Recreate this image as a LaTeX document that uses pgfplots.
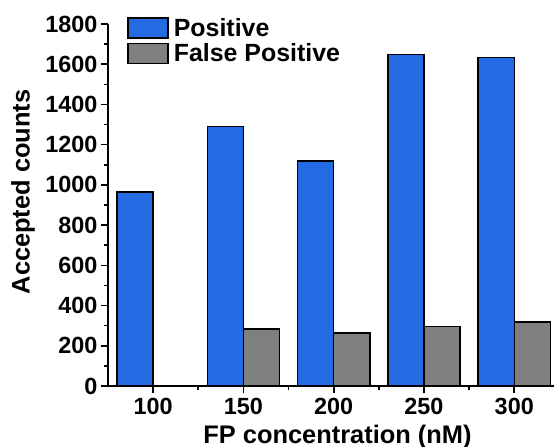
\documentclass[border=0pt]{standalone}
\usepackage{fontspec}
\setmainfont{Liberation Sans}
\usepackage{pgfplots}
\pgfplotsset{compat=1.18}
\definecolor{posblue}{RGB}{36,106,226}
\definecolor{fpgray}{RGB}{128,128,128}
\begin{document}
\begin{tikzpicture}
\begin{axis}[
  scale only axis,
  width=446bp, height=362bp,
  xmin=75, xmax=322, ymin=0, ymax=1800,
  axis x line*=bottom, axis y line*=left,
  axis line style={line width=2bp, -},
  xtick={100,150,200,250,300},
  minor xtick={125,175,225,275},
  ytick={0,200,...,1800},
  minor ytick={100,300,...,1700},
  tick align=outside,
  major tick length=7bp, minor tick length=4bp,
  every tick/.style={line width=1.6bp, black},
  /pgf/number format/assume math mode=true,
  /pgf/number format/1000 sep={},
  tick label style={font=\fontsize{23.5}{26}\selectfont\bfseries},
  xticklabel style={yshift=-2bp},
  label style={font=\fontsize{25.5}{28}\selectfont\bfseries},
  xlabel={FP concentration (nM)},
  ylabel={Accepted counts},
  xlabel style={at={(rel axis cs:0.5146,0)}, anchor=base, yshift=-57bp},
  ylabel style={at={(rel axis cs:0,0.536)}, anchor=center, yshift=85bp},
  ybar, bar width=20,
  legend style={draw=none, fill=none, at={(rel axis cs:0.043,1.022)}, anchor=north west,
    font=\fontsize{25}{28}\selectfont\bfseries, row sep=2bp, column sep=3bp, inner sep=0pt},
  legend cell align=left,
  legend image code/.code={\draw[#1, line width=1.5bp, draw=black] (0bp,-10bp) rectangle (40bp,10bp);},
  clip=false,
]
\addplot[fill=posblue, draw=black, line width=1.5bp, bar shift=-10] coordinates {
  (100,964) (150,1291) (200,1119) (250,1649) (300,1633)};
\addlegendentry{Positive}
\addplot[fill=fpgray, draw=black, line width=1.5bp, bar shift=10] coordinates {
  (150,283) (200,263) (250,295) (300,318)};
\addlegendentry{False Positive}
\coordinate (sw) at (rel axis cs:0,0);
\coordinate (ne) at (rel axis cs:1,1);
\end{axis}
\pgfresetboundingbox
\path ([xshift=-108bp,yshift=-61bp]sw) rectangle ([yshift=24bp]ne);
\end{tikzpicture}
\end{document}
